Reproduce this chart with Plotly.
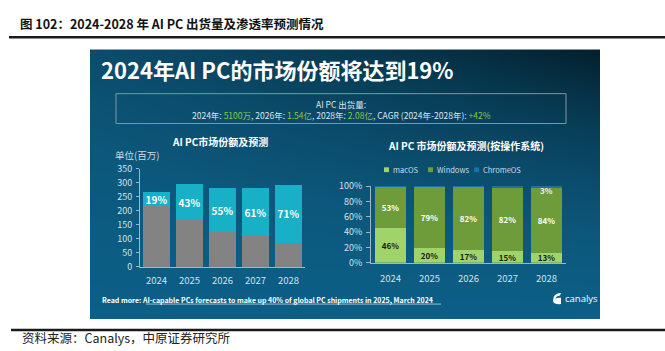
import numpy as np
import plotly.graph_objects as go

W, H = 665, 351

# ---------------- data ----------------
years = ['2024', '2025', '2026', '2027', '2028']
ai_units = [51, 127, 154, 171, 208]          # AI PC shipments (million)
non_ai_units = [216, 168, 126, 109, 85]      # other PCs (million)
ai_share_labels = ['19%', '43%', '55%', '61%', '71%']
left_ticks = [0, 50, 100, 150, 200, 250, 300, 350]

macos = [46, 20, 17, 15, 13]
windows = [53, 79, 82, 82, 84]
chromeos = [1, 1, 1, 3, 3]
chromeos_labels = ['', '', '', '', '3%']
right_ticks = [0, 20, 40, 60, 80, 100]
right_tick_labels = ['0%', '20%', '40%', '60%', '80%', '100%']

FONT = "Noto Sans CJK SC"
idx = list(range(len(years)))


def px(x):
    return x / W


def py(y):
    return 1 - y / H


fig = go.Figure()

# ---------------- panel gradient background ----------------
n = 40
xs = np.linspace(0, 1, n)
ys = np.linspace(0, 1, n)
XX, YY = np.meshgrid(xs, ys)
Z = YY * (0.5 + 0.5 * XX)
fig.add_trace(go.Heatmap(
    x=xs, y=ys, z=Z, zsmooth='best', showscale=False, hoverinfo='skip',
    zmin=0, zmax=1,
    colorscale=[[0, '#0c5f88'], [0.3, '#0c587c'], [0.5, '#0b4c6c'],
                [0.75, '#073a52'], [1, '#03202d']],
    xaxis='x', yaxis='y'))

# ---------------- left chart ----------------
fig.add_trace(go.Bar(
    x=idx, y=non_ai_units, width=0.82, marker=dict(color='#838383', line=dict(width=0)),
    xaxis='x2', yaxis='y2', showlegend=False, hoverinfo='skip'))
fig.add_trace(go.Bar(
    x=idx, y=ai_units, width=0.82, marker=dict(color='#18b0c6', line=dict(width=0)),
    text=ai_share_labels, textposition='inside', insidetextanchor='middle',
    constraintext='none',
    textfont=dict(color='white', size=10, family=FONT, weight='bold'),
    textangle=0,
    xaxis='x2', yaxis='y2', showlegend=False, hoverinfo='skip'))

# ---------------- right chart ----------------
fig.add_trace(go.Bar(
    x=idx, y=macos, width=0.77, marker=dict(color='#9fd46a', line=dict(width=0)),
    text=[f'{v}%' for v in macos], textposition='inside', insidetextanchor='middle',
    constraintext='none',
    textfont=dict(color='#1a1a1a', size=8, family=FONT, weight='bold'), textangle=0,
    xaxis='x3', yaxis='y3', showlegend=False, hoverinfo='skip'))
fig.add_trace(go.Bar(
    x=idx, y=windows, width=0.77, marker=dict(color='#6f9c3a', line=dict(width=0)),
    text=[f'{v}%' for v in windows], textposition='inside', insidetextanchor='middle',
    constraintext='none',
    textfont=dict(color='white', size=8, family=FONT, weight='bold'), textangle=0,
    xaxis='x3', yaxis='y3', showlegend=False, hoverinfo='skip'))
fig.add_trace(go.Bar(
    x=idx, y=chromeos, width=0.77, marker=dict(color='#1d6fa6', line=dict(width=0)),
    xaxis='x3', yaxis='y3', showlegend=False, hoverinfo='skip'))

axis_col = '#9ab8c6'
tick_font = dict(color='#d5e0e7', size=9, family=FONT)

layout = dict(
    width=W, height=H, margin=dict(l=0, r=0, t=0, b=0),
    paper_bgcolor='white', plot_bgcolor='rgba(0,0,0,0)',
    barmode='stack', showlegend=False,
    font=dict(family=FONT),
    xaxis=dict(domain=[px(90), px(600)], range=[0, 1], visible=False, fixedrange=True),
    yaxis=dict(domain=[py(324), py(44)], range=[0, 1], visible=False, fixedrange=True),
    xaxis2=dict(domain=[px(140), px(305)], anchor='y2', range=[-0.5, 4.5],
                tickvals=idx, ticktext=years, showgrid=False, zeroline=False,
                showline=True, linecolor=axis_col, linewidth=1,
                ticks='', tickfont=dict(color='#d5e0e7', size=9.5, family=FONT),
                ticklabelstandoff=5),
    yaxis2=dict(domain=[py(270), py(168)], anchor='x2', range=[0, 350],
                tickvals=left_ticks, showgrid=False, zeroline=False,
                showline=True, linecolor=axis_col, linewidth=1,
                ticks='outside', ticklen=3, tickcolor=axis_col,
                tickfont=tick_font, ticklabelstandoff=2),
    xaxis3=dict(domain=[px(371), px(566)], anchor='y3', range=[-0.5, 4.5],
                tickvals=idx, ticktext=years, showgrid=False, zeroline=False,
                showline=True, linecolor=axis_col, linewidth=1,
                ticks='', tickfont=dict(color='#d5e0e7', size=9.5, family=FONT),
                ticklabelstandoff=7),
    yaxis3=dict(domain=[py(265.7), py(186)], anchor='x3', range=[0, 100],
                tickvals=right_ticks, ticktext=right_tick_labels,
                showgrid=False, zeroline=False,
                showline=True, linecolor=axis_col, linewidth=1,
                ticks='outside', ticklen=4, tickcolor=axis_col,
                tickfont=tick_font, ticklabelstandoff=2),
)
fig.update_layout(**layout)

shapes = []
# top and bottom rules
shapes.append(dict(type='line', xref='paper', yref='paper', x0=px(9), x1=1,
                   y0=py(31.5), y1=py(31.5), line=dict(color='#1a1a1a', width=2.5)))
shapes.append(dict(type='line', xref='paper', yref='paper', x0=px(11), x1=1,
                   y0=py(335.5), y1=py(335.5), line=dict(color='#1a1a1a', width=2.5)))
# summary box
shapes.append(dict(type='rect', xref='paper', yref='paper', x0=px(116), x1=px(566),
                   y0=py(121), y1=py(90), line=dict(color='#8096a3', width=1),
                   fillcolor='rgba(0,0,0,0)'))
# right legend swatches
for x0, col in [(384, '#9fd46a'), (428, '#6f9c3a'), (474, '#1d6fa6')]:
    shapes.append(dict(type='rect', xref='paper', yref='paper', x0=px(x0), x1=px(x0 + 5),
                       y0=py(171.5), y1=py(166.5), line=dict(width=0), fillcolor=col))
# underline of read-more link
shapes.append(dict(type='line', xref='paper', yref='paper', x0=px(146), x1=px(441),
                   y0=py(308.5), y1=py(308.5), line=dict(color='white', width=0.6)))
# canalys mark
shapes.append(dict(type='path', xref='paper', yref='paper',
                   path=(f"M {px(553)},{py(305)} Q {px(553)},{py(297)} {px(561)},{py(297)} "
                         f"L {px(560)},{py(299.5)} Q {px(556)},{py(300)} {px(555.5)},{py(303)} "
                         f"Q {px(557)},{py(301.5)} {px(561)},{py(302)} L {px(561)},{py(308.5)} "
                         f"Q {px(553)},{py(309)} {px(553)},{py(305)} Z"),
                   line=dict(width=0), fillcolor='white'))
fig.update_layout(shapes=shapes)

green = '#8dc63f'
ann = []


def text(x, y, s, size, color='white', xanchor='left', bold=False, family=FONT):
    ann.append(dict(xref='paper', yref='paper', x=px(x), y=py(y), text=s,
                    showarrow=False, xanchor=xanchor, yanchor='middle',
                    font=dict(size=size, color=color, family=family,
                              weight='bold' if bold else 'normal')))


text(18, 17.5, '图 102：2024-2028 年 AI PC 出货量及渗透率预测情况', 12.5, '#111111', bold=True)
text(99, 64.5, '2024年AI PC的市场份额将达到19%', 22, 'white', bold=True)
text(341, 100.5, 'AI PC 出货量:', 8.5, '#dfe6ea', xanchor='center')
line2 = (f"2024年: <span style='color:{green}'>5100万</span>, 2026年: "
         f"<span style='color:{green}'>1.54亿</span>, 2028年: "
         f"<span style='color:{green}'>2.08亿</span>, CAGR (2024年-2028年): "
         f"<span style='color:{green}'>+42%</span>")
text(341, 112.5, line2, 8.5, '#dfe6ea', xanchor='center')
text(220, 140, 'AI PC市场份额及预测', 10, 'white', xanchor='center', bold=True)
text(113, 153.5, '单位(百万)', 9.5, '#cfdbe3')
text(466, 143.5, 'AI PC 市场份额及预测(按操作系统)', 10, 'white', xanchor='center', bold=True)
text(391, 169, 'macOS', 7.5, '#d0dbe2')
text(435, 169, 'Windows', 7.5, '#d0dbe2')
text(481, 169, 'ChromeOS', 7.5, '#d0dbe2')
text(100, 304.5, 'Read more: AI-capable PCs forecasts to make up 40% of global PC shipments in 2025, March 2024',
     7, 'white', bold=True)
text(563, 303, 'canalys', 9.5, 'white', family='Open Sans')
text(20, 343.5, '资料来源：Canalys，中原证券研究所', 12.5, '#222222')

# ChromeOS label placed just under its segment (as in the reference)
for i, m, w, lab in zip(idx, macos, windows, chromeos_labels):
    if lab:
        ann.append(dict(xref='x3', yref='y3', x=i, y=m + w - 2.5, text=lab,
                        showarrow=False, yanchor='middle',
                        font=dict(size=8, color='#e8eef2', family=FONT, weight='bold')))

fig.update_layout(annotations=ann)

fig.write_html("out.html")
